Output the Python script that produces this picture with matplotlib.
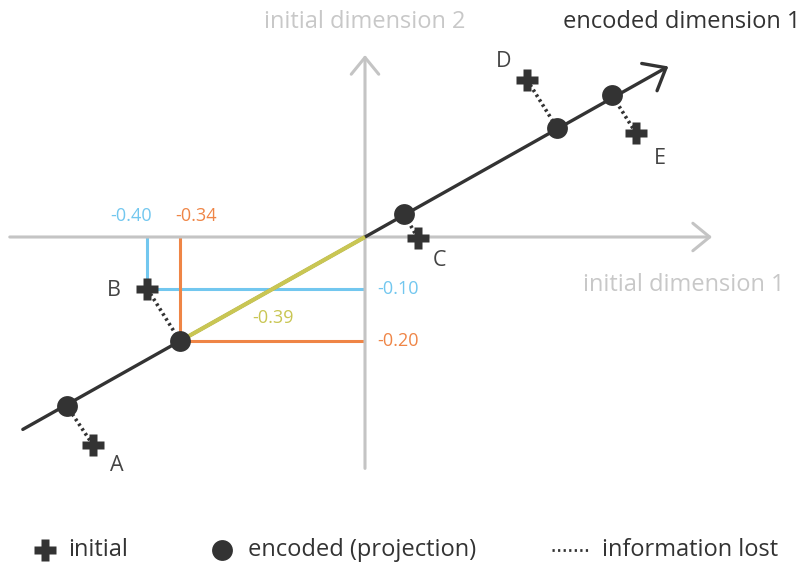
import numpy as np
import matplotlib.pyplot as plt

# points (data units, origin where the two initial axes cross)
names = ['A', 'B', 'C', 'D', 'E']
initial_x = [-0.50, -0.40, 0.097, 0.298, 0.498]
initial_y = [-0.40, -0.10, -0.002, 0.302, 0.200]
encoded_x = [-0.548, -0.34, 0.072, 0.353, 0.454]
encoded_y = [-0.325, -0.20, 0.044, 0.210, 0.273]
b_proj_len = -0.39

dark = '#333333'
axis_grey = '#c4c4c4'
label_grey = '#c8c8c8'
blue = '#72c7ef'
orange = '#ef8546'
olive = '#c9c653'

plt.rcParams['font.family'] = ['Open Sans', 'DejaVu Sans']

fig = plt.figure(figsize=(8.06, 5.70), dpi=100)
ax = fig.add_axes([0, 0, 1, 1])
ax.set_xlim(-365 / 544, (806 - 365) / 544)
ax.set_ylim((237 - 570) / 520, 237 / 520)
ax.set_axis_off()

# initial axes with open arrow heads
arr = dict(arrowstyle='->, head_length=0.55, head_width=0.45', color=axis_grey,
           lw=2.2, mutation_scale=22, shrinkA=0, shrinkB=0)
ax.annotate('', xy=(0.638, 0), xytext=(-0.653, 0), arrowprops=arr)
ax.annotate('', xy=(0, 0.35), xytext=(0, -0.445), arrowprops=arr)

# encoded dimension line
bx, by = encoded_x[1], encoded_y[1]
arr2 = dict(arr, color=dark, lw=2.4, mutation_scale=25)
ax.annotate('', xy=(-1.64 * bx, -1.64 * by), xytext=(1.85 * bx, 1.85 * by),
            arrowprops=arr2)

# projection guides for point B
ix, iy = initial_x[1], initial_y[1]
ax.plot([ix, ix], [0, iy], color=blue, lw=2.2, solid_capstyle='butt', zorder=2)
ax.plot([ix, 0], [iy, iy], color=blue, lw=2.2, solid_capstyle='butt', zorder=2)
ax.plot([bx, bx], [0, by], color=orange, lw=2.2, solid_capstyle='butt', zorder=2)
ax.plot([bx, 0], [by, by], color=orange, lw=2.2, solid_capstyle='butt', zorder=2)
ax.plot([0, bx], [0, by], color=olive, lw=3, solid_capstyle='butt', zorder=3)

# information lost
for x0, y0, x1, y1 in zip(initial_x, initial_y, encoded_x, encoded_y):
    ax.plot([x0, x1], [y0, y1], color=dark, lw=2.6, ls=(0, (0.7, 0.9)), zorder=4)

ax.plot(encoded_x, encoded_y, 'o', ms=15, color=dark, mec='none', zorder=5)
ax.plot(initial_x, initial_y, 'P', ms=15.5, color=dark, mec='none', zorder=5)

# point letters
offsets = {'A': (17, -15), 'B': (-24, -1), 'C': (16, -16), 'D': (-17, 13), 'E': (17, -18)}
for n, x, y in zip(names, initial_x, initial_y):
    ax.annotate(n, (x, y), xytext=offsets[n], textcoords='offset points',
                ha='center', va='center', fontsize=15.5, color='#444444')

# value labels
ax.text(ix - 0.03, 0.04, f'{ix:.2f}', color=blue, fontsize=13, ha='center', va='center')
ax.text(bx + 0.03, 0.04, f'{bx:.2f}', color=orange, fontsize=13, ha='center', va='center')
ax.text(0.023, iy, f'{iy:.2f}', color=blue, fontsize=13, ha='left', va='center')
ax.text(0.023, by, f'{by:.2f}', color=orange, fontsize=13, ha='left', va='center')
ax.text(-0.17, -0.156, f'{b_proj_len:.2f}', color=olive, fontsize=13, ha='center', va='center')

# axis titles
ax.text(0, 0.414, 'initial dimension 2', color=label_grey, fontsize=17,
        ha='center', va='center')
ax.text(0.80, 0.414, 'encoded dimension 1', color=dark, fontsize=17,
        ha='right', va='center')
ax.text(0.772, -0.092, 'initial dimension 1', color=label_grey, fontsize=17,
        ha='right', va='center')

# legend along the bottom
ly = 1 - 550 / 570
ax.plot([45 / 806], [ly], 'P', ms=15.5, color=dark, mec='none', transform=ax.transAxes)
ax.text(68 / 806, ly, 'initial', fontsize=17, color=dark, va='center',
        transform=ax.transAxes)
ax.plot([222 / 806], [ly], 'o', ms=15, color=dark, mec='none', transform=ax.transAxes)
ax.text(248 / 806, ly, 'encoded (projection)', fontsize=17, color=dark, va='center',
        transform=ax.transAxes)
ax.plot([552 / 806, 590 / 806], [ly, ly], color=dark, lw=2, ls=(0, (0.8, 1.2)),
        transform=ax.transAxes)
ax.text(602 / 806, ly, 'information lost', fontsize=17, color=dark, va='center',
        transform=ax.transAxes)

fig.savefig('out.png', dpi=100)
